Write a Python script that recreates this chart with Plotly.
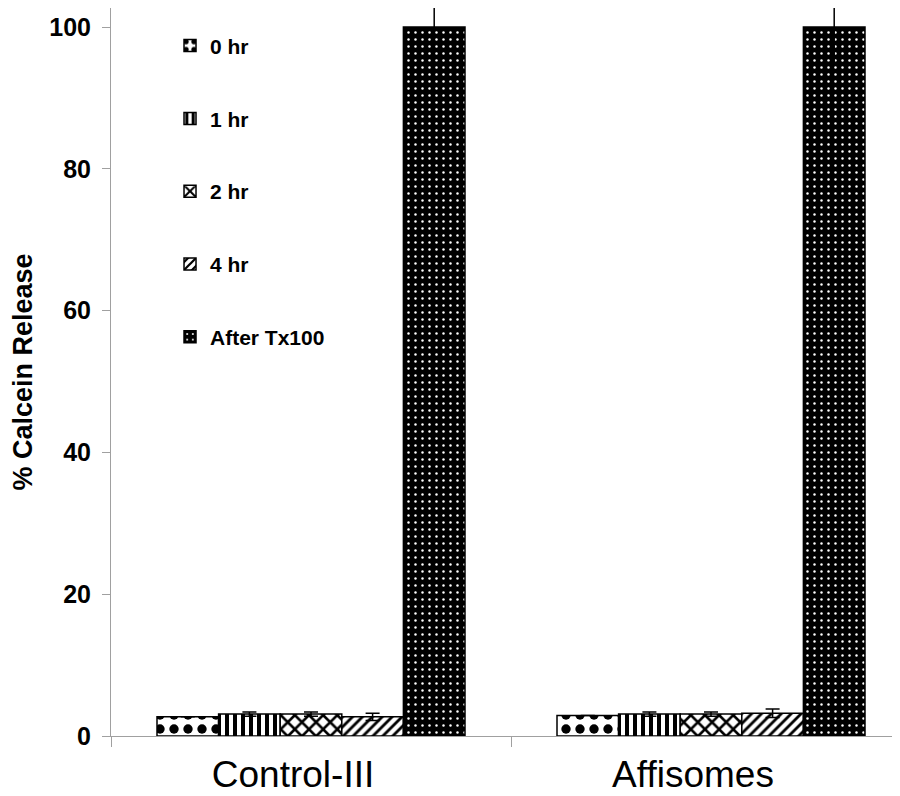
import plotly.graph_objects as go

categories = ["Control-III", "Affisomes"]
series_names = ["0 hr", "1 hr", "2 hr", "4 hr", "After Tx100"]
values = {
    "0 hr": [2.7, 2.9],
    "1 hr": [3.1, 3.1],
    "2 hr": [3.1, 3.1],
    "4 hr": [2.7, 3.2],
    "After Tx100": [100.0, 100.0],
}
errors = {
    "0 hr": [0.0, 0.0],
    "1 hr": [0.3, 0.3],
    "2 hr": [0.3, 0.3],
    "4 hr": [0.5, 0.6],
    "After Tx100": [5.0, 5.0],
}
y_ticks = [0, 20, 40, 60, 80, 100]

patterns = {
    "0 hr": dict(shape=".", fgcolor="black", bgcolor="white", size=14, solidity=0.35, fgopacity=1),
    "1 hr": dict(shape="|", fgcolor="black", bgcolor="white", size=8, solidity=0.5, fgopacity=1),
    "2 hr": dict(shape="x", fgcolor="black", bgcolor="white", size=10, solidity=0.45, fgopacity=1),
    "4 hr": dict(shape="/", fgcolor="black", bgcolor="white", size=7, solidity=0.4, fgopacity=1),
    "After Tx100": dict(shape=".", fgcolor="white", bgcolor="black", size=7, solidity=0.1, fgopacity=1),
}

FONT = "Liberation Sans, Arial, sans-serif"

fig = go.Figure()
for i, name in enumerate(series_names):
    fig.add_trace(go.Bar(
        x=categories,
        y=values[name],
        name=name,
        legendgroup=name,
        marker=dict(color="white", pattern=patterns[name],
                    line=dict(color="black", width=1.5)),
        error_y=dict(type="data", array=errors[name], visible=True,
                     color="black", thickness=1.5, width=7),
    ))

fig.update_layout(
    width=892, height=788,
    margin=dict(l=103, r=0, t=0, b=60, autoexpand=False),
    paper_bgcolor="white", plot_bgcolor="white",
    barmode="group", bargap=0.23, bargroupgap=0,
    font=dict(family=FONT, color="black"),
    showlegend=True,
    legend=dict(x=0.0748, y=0.976, xanchor="left", yanchor="top",
                font=dict(family=FONT, size=21, color="black", weight="bold"),
                tracegroupgap=42.5, bgcolor="rgba(0,0,0,0)", itemwidth=30),
    xaxis=dict(range=[-0.5, 1.4725], showline=True, linecolor="#a0a0a0", linewidth=1,
               ticks="outside", tickson="boundaries", ticklen=10, tickcolor="#a0a0a0",
               tickfont=dict(family=FONT, size=37, color="black"),
               ticklabelstandoff=6, ticklabelshift=-18,
               showgrid=False, zeroline=False, automargin=False),
    yaxis=dict(range=[0, 102.68], tickvals=y_ticks, showline=True, linecolor="#a0a0a0",
               linewidth=1, ticks="outside", ticklen=8, tickcolor="#a0a0a0",
               tickfont=dict(family=FONT, size=25, color="black", weight="bold"),
               ticklabelstandoff=6, automargin=False,
               showgrid=False, zeroline=False,
               title=dict(text="% Calcein Release", standoff=17,
                          font=dict(family=FONT, size=27, color="black", weight="bold"))),
)

fig.write_html("out.html")
